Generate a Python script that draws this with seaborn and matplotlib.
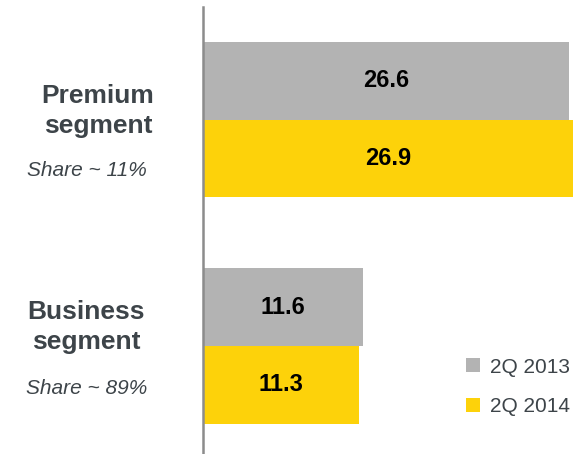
import matplotlib
matplotlib.use("Agg")
import matplotlib.pyplot as plt
import seaborn as sns
import pandas as pd
from matplotlib.patches import Patch

segments = ["Premium", "Business"]
seg_titles = ["Premium\nsegment", "Business\nsegment"]
shares = ["Share ~ 11%", "Share ~ 89%"]
periods = ["2Q 2013", "2Q 2014"]
values_2013 = [26.6, 11.6]
values_2014 = [26.9, 11.3]
colors = ["#B3B3B3", "#FDD20A"]

df = pd.DataFrame({
    "segment": segments * 2,
    "period": [periods[0]] * 2 + [periods[1]] * 2,
    "value": values_2013 + values_2014,
})

sns.set_theme(style="white")
plt.rcParams["font.family"] = ["Liberation Sans", "DejaVu Sans"]

W, H = 583, 454
fig = plt.figure(figsize=(W / 100, H / 100), dpi=100)
ax = fig.add_axes([203 / W, 0, 380 / W, 447 / H])

sns.barplot(data=df, y="segment", x="value", hue="period", order=segments,
            hue_order=periods, palette=colors, orient="h", width=0.686,
            ax=ax, legend=False, saturation=1, linewidth=0)

ax.set_xlim(0, 27.6)
ax.set_ylim(1.477, -0.497)
for c in ax.containers:
    ax.bar_label(c, labels=[f"{v:.1f}" for v in c.datavalues], label_type="center",
                 fontsize=17, fontweight="bold", color="black")

for s in ["top", "right", "bottom"]:
    ax.spines[s].set_visible(False)
ax.spines["left"].set_color("#8C8C8C")
ax.spines["left"].set_linewidth(1.8)
ax.set_xticks([])
ax.set_yticks([])
ax.set_xlabel("")
ax.set_ylabel("")

title_pos = [(98, 111), (86, 327)]
share_pos = [(87, 171), (87, 388)]
for t, s, (tx, ty), (sx, sy) in zip(seg_titles, shares, title_pos, share_pos):
    fig.text(tx / W, 1 - ty / H, t, ha="center", va="center", fontsize=19,
             fontweight="bold", color="#3D4449", linespacing=1.3)
    fig.text(sx / W, 1 - sy / H, s, ha="center", va="center", fontsize=15,
             style="italic", color="#3D4449")

handles = [Patch(facecolor=c, edgecolor="none", label=p) for c, p in zip(colors, periods)]
fig.legend(handles=handles, loc="center left", bbox_to_anchor=(466 / W, 1 - 387 / H),
           frameon=False, fontsize=15, handlelength=0.65, handleheight=0.65,
           handletextpad=0.5, labelspacing=1.0, borderpad=0, borderaxespad=0,
           labelcolor="#3D4449")

fig.savefig("out.png", dpi=100)
